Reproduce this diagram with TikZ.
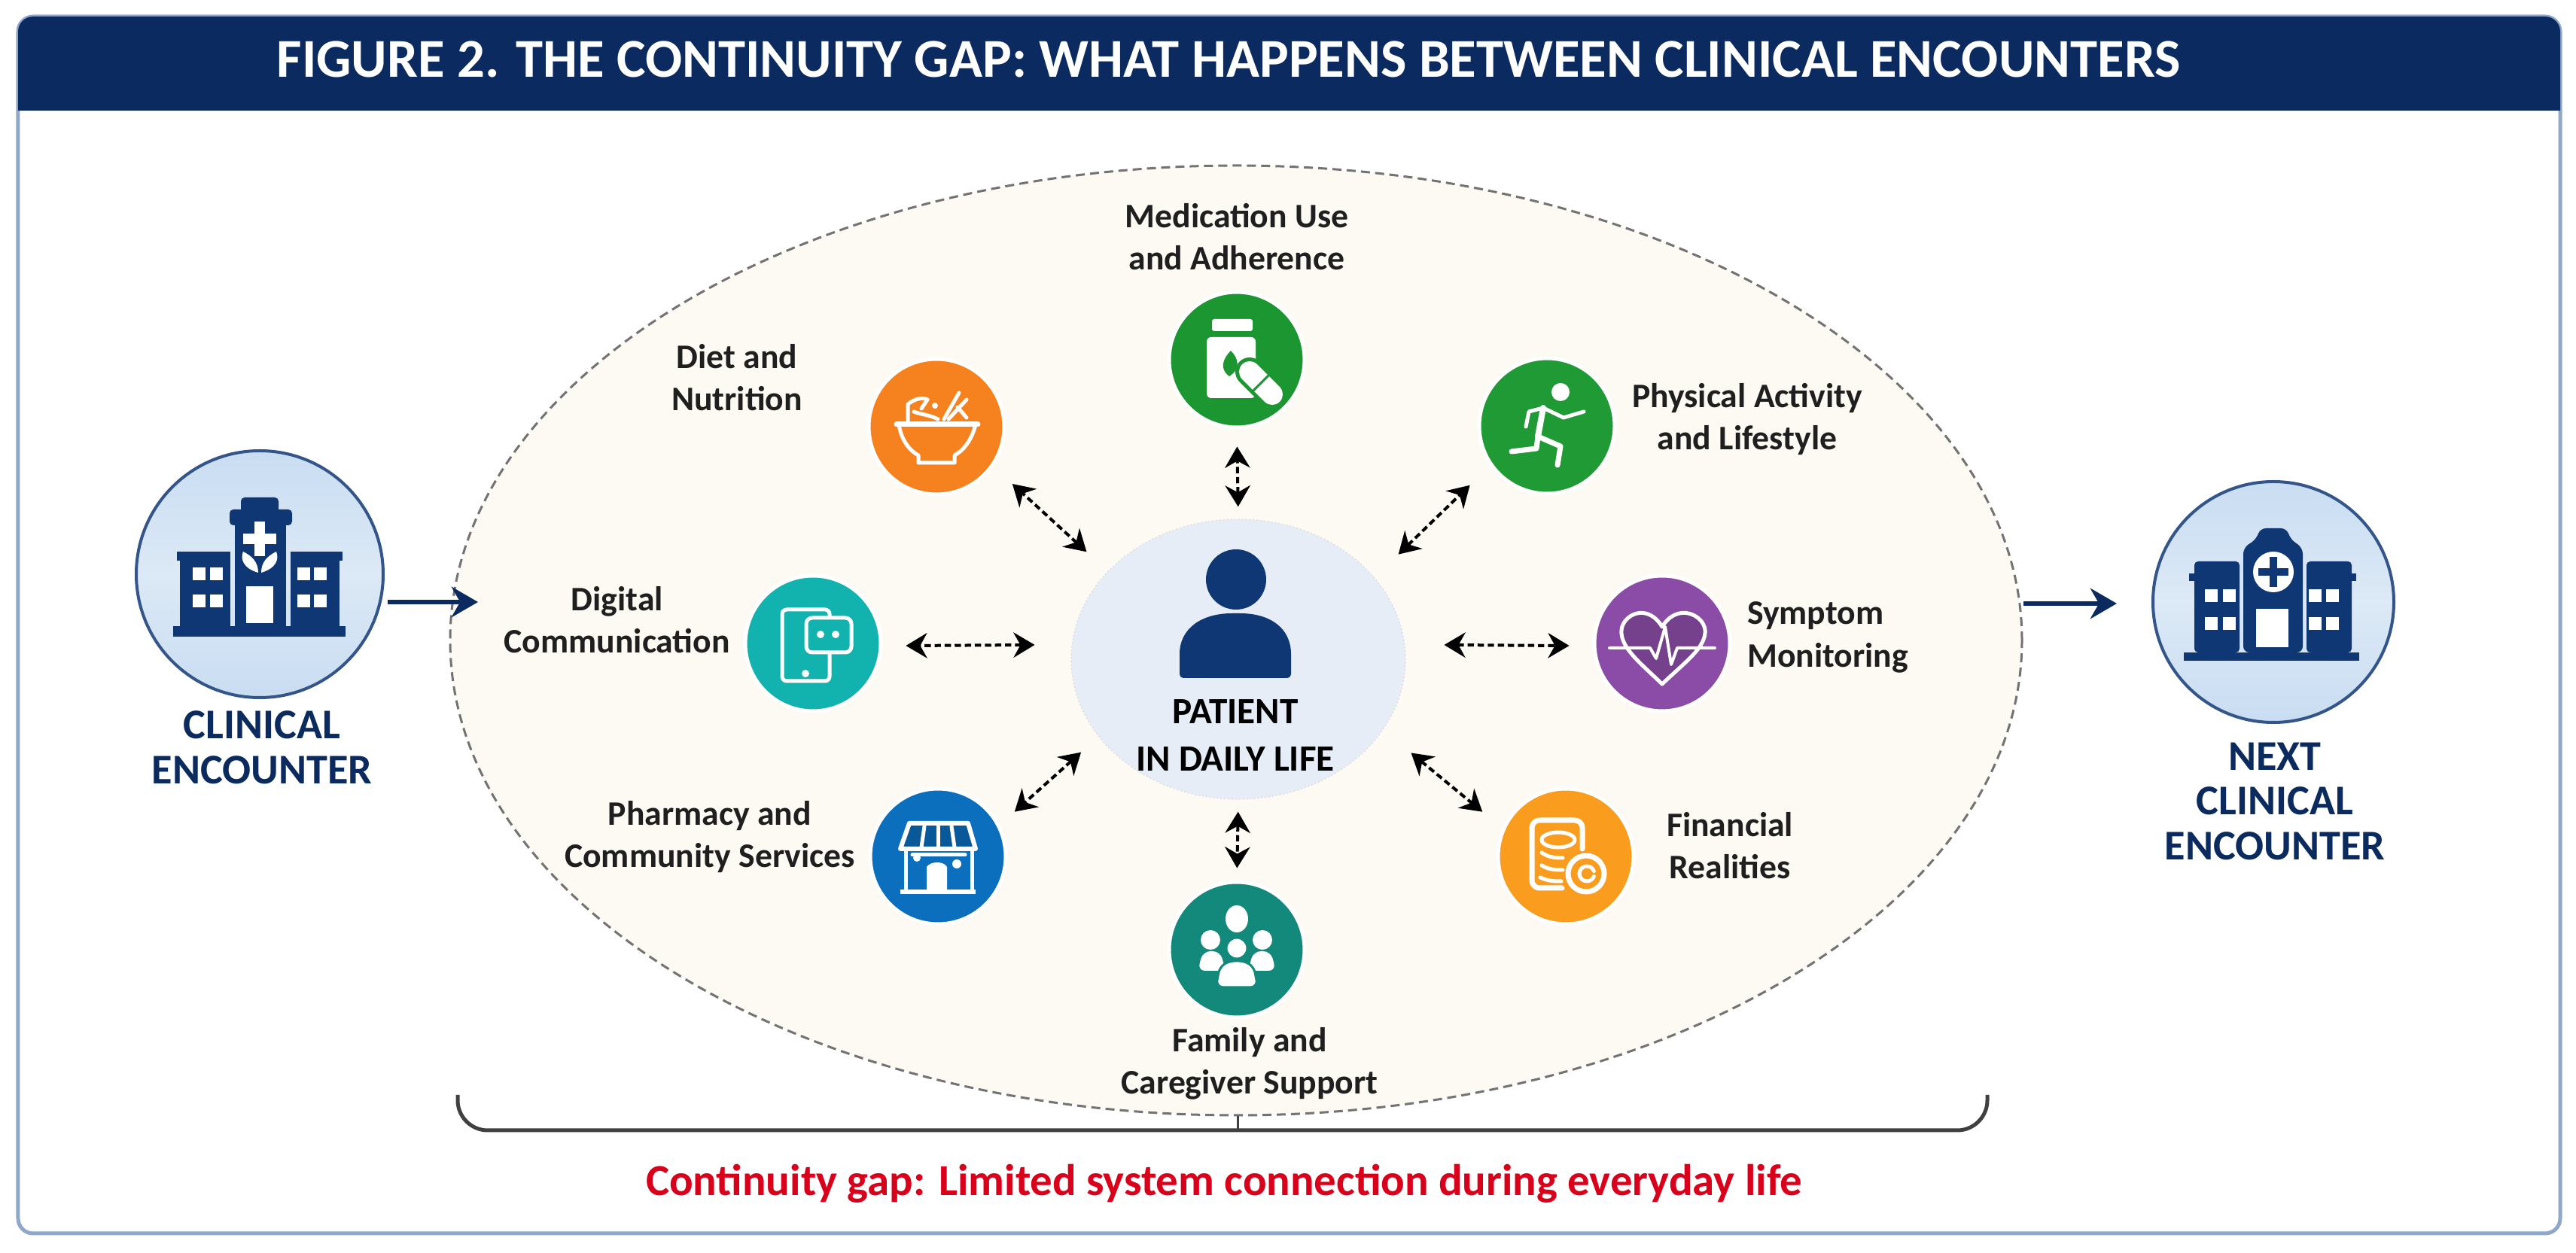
\documentclass[tikz,border=0pt]{standalone}
\usepackage{fontspec}
\setmainfont{Carlito}
\usepackage{xcolor}
\usetikzlibrary{arrows.meta,positioning,shapes.geometric,calc}
\definecolor{headblue}{HTML}{0A2A60}
\definecolor{framepale}{HTML}{8FA7C8}
\definecolor{navytext}{HTML}{0B2A5E}
\definecolor{ovalfill}{HTML}{FDF9F3}
\definecolor{patfill}{HTML}{E6EDF6}
\definecolor{patblue}{HTML}{0F3774}
\definecolor{encpale}{HTML}{C9DDF2}
\definecolor{encband}{HTML}{DCE9F6}
\definecolor{dietorange}{HTML}{F6821F}
\definecolor{medgreen}{HTML}{1C9630}
\definecolor{sportgreen}{HTML}{1F9A34}
\definecolor{heartpurple}{HTML}{8A4CA6}
\definecolor{coinorange}{HTML}{FA9C1E}
\definecolor{famteal}{HTML}{12897A}
\definecolor{shopblue}{HTML}{0B6FBE}
\definecolor{phoneteal}{HTML}{12B3AE}
\definecolor{gapred}{HTML}{D9001B}
\tikzset{
  wline/.style={draw=white, line width=.05cm, line cap=round, line join=round},
  hospa/.pic={
    \fill[patblue] (-1.15,-.83) rectangle (1.14,-.69);
    \fill[patblue] (-1.06,-.69) rectangle (-.39,.30);
    \fill[patblue] (.41,-.69) rectangle (1.06,.30);
    \fill[patblue] (-1.10,.18) rectangle (-.39,.30);
    \fill[patblue] (.41,.18) rectangle (1.10,.30);
    \fill[patblue, rounded corners=.05cm] (-.25,.80) rectangle (.25,1.02);
    \fill[patblue] (-.33,-.69) rectangle (.35,.70);
    \fill[patblue, rounded corners=.05cm] (-.40,.65) rectangle (.43,.86);
    \fill[white] (-.18,-.65) rectangle (.18,-.16);
    \fill[white] (-.07,.24) rectangle (.07,.70);
    \fill[white] (-.22,.40) rectangle (.22,.54);
    \fill[white] (-.02,.02) .. controls (-.22,.08) and (-.26,.20) .. (-.22,.30) .. controls (-.10,.24) and (-.02,.16) .. cycle;
    \fill[white] (.02,.02) .. controls (.22,.08) and (.26,.20) .. (.22,.30) .. controls (.10,.24) and (.02,.16) .. cycle;
    \foreach \wx in {-.81,-.58,.58,.80}
      \foreach \wy in {0,-.36}
        \fill[white] (\wx-.085,\wy-.085) rectangle ++(.17,.17);
  },
  hospb/.pic={
    \fill[patblue] (-1.19,-.78) rectangle (1.14,-.67);
    \fill[patblue, rounded corners=.05cm] (-1.05,-.67) rectangle (-.45,.54);
    \fill[patblue, rounded corners=.05cm] (.44,-.67) rectangle (1.04,.54);
    \fill[patblue] (-1.12,.28) rectangle (-.45,.38);
    \fill[patblue] (.44,.28) rectangle (1.10,.38);
    \fill[patblue, rounded corners=.08cm] (-.40,-.67) -- (-.40,.72) -- (-.22,.84) -- (-.18,.98) -- (.18,.98) -- (.22,.84) -- (.39,.72) -- (.39,-.67) -- cycle;
    \fill[white] (0,.40) circle (.27);
    \fill[patblue] (-.05,.20) rectangle (.05,.60);
    \fill[patblue] (-.20,.35) rectangle (.20,.45);
    \fill[white] (-.23,-.60) rectangle (.20,-.09);
    \foreach \wx in {-.83,-.59,.55,.78}
      \foreach \wy in {.08,-.29}
        \fill[white] (\wx-.085,\wy-.085) rectangle ++(.17,.17);
  },
  person/.pic={
    \fill[patblue] (-.03,1.06) ellipse (.40 and .40);
    \fill[patblue, rounded corners=.05cm] (-.78,-.25) -- (-.78,.02) .. controls (-.78,.40) and (-.50,.61) .. (-.03,.61) .. controls (.44,.61) and (.70,.40) .. (.70,.02) -- (.70,-.25) -- cycle;
  },
  bowl/.pic={
    \draw[wline, line width=.07cm] (-.53,.03) -- (.55,.03);
    \draw[wline] (-.50,.03) .. controls (-.46,-.22) and (-.32,-.34) .. (-.24,-.38) -- (-.24,-.48) -- (.24,-.48) -- (.24,-.38) .. controls (.32,-.34) and (.46,-.22) .. (.52,.03);
    \draw[wline] (-.38,.08) -- (-.38,.30) .. controls (-.30,.36) and (-.20,.40) .. (-.12,.36);
    \draw[wline] (-.30,.20) .. controls (-.20,.16) and (-.10,.16) .. (.02,.10);
    \draw[wline] (-.12,.36) -- (-.20,.24);
    \fill[white] (-.02,.28) circle (.04);
    \draw[wline] (.10,.10) -- (.30,.45);
    \draw[wline] (.16,.10) -- (.40,.36);
    \draw[wline] (.28,.26) -- (.40,.12);
  },
  pills/.pic={
    \fill[white, rounded corners=.03cm] (-.33,.38) rectangle (.21,.54);
    \fill[white, rounded corners=.06cm] (-.40,-.51) rectangle (.25,.30);
    \fill[medgreen] (-.10,-.22) .. controls (-.24,-.12) and (-.18,.02) .. (-.08,.12) .. controls (.02,.02) and (.06,-.12) .. cycle;
    \draw[medgreen, line width=.38cm, line cap=round] (.17,-.16) -- (.47,-.46);
    \draw[white, line width=.28cm, line cap=round] (.17,-.16) -- (.47,-.46);
    \draw[medgreen, line width=.03cm] (.20,-.43) -- (.44,-.19);
  },
  runner/.pic={
    \fill[white] (.18,.45) circle (.12);
    \draw[wline, line width=.08cm] (-.05,.24) -- (-.12,-.14);
    \draw[wline] (-.05,.24) -- (-.24,.19) -- (-.28,-.01);
    \draw[wline] (-.05,.24) -- (.22,.11) -- (.49,.19);
    \draw[wline, line width=.07cm] (-.12,-.14) -- (-.14,-.30) -- (-.47,-.34);
    \draw[wline, line width=.07cm] (-.12,-.14) -- (.18,-.27) -- (.14,-.52);
  },
  heartecg/.pic={
    \draw[wline, fill=heartpurple!85!black] (0,-.54) .. controls (-.30,-.25) and (-.56,-.05) .. (-.54,.18) .. controls (-.52,.38) and (-.20,.55) .. (0,.22) .. controls (.20,.55) and (.55,.38) .. (.57,.18) .. controls (.59,-.05) and (.30,-.25) .. (0,-.54) -- cycle;
    \draw[wline, line width=.04cm] (-.70,-.06) -- (-.16,-.06) -- (-.08,-.20) -- (.04,.22) -- (.12,-.28) -- (.20,-.06) -- (.70,-.06);
  },
  coins/.pic={
    \draw[wline, line width=.07cm, rounded corners=.10cm] (-.05,-.42) -- (-.45,-.42) -- (-.45,.48) -- (.22,.48) -- (.22,.10);
    \draw[wline] (-.10,.22) ellipse (.22 and .10);
    \draw[wline] (-.32,.05) .. controls (-.22,-.02) and (-.12,-.02) .. (-.04,-.02);
    \draw[wline] (-.32,-.12) .. controls (-.22,-.18) and (-.12,-.18) .. (-.04,-.18);
    \draw[wline] (-.34,-.28) .. controls (-.24,-.33) and (-.14,-.33) .. (-.06,-.33);
    \draw[wline, line width=.07cm, fill=coinorange] (.27,-.23) circle (.24);
    \draw[wline] (.18,-.23) arc (180:20:.10);
    \draw[wline] (.18,-.23) arc (180:340:.10);
  },
  famgroup/.pic={
    \fill[white] (0,.41) ellipse (.15 and .18);
    \fill[white] (-.35,.13) circle (.13);
    \fill[white] (.34,.13) circle (.13);
    \fill[white, rounded corners=.10cm] (-.52,-.28) -- (-.45,-.02) -- (-.22,-.02) -- (-.15,-.28) -- cycle;
    \fill[white, rounded corners=.10cm] (.15,-.28) -- (.22,-.02) -- (.45,-.02) -- (.52,-.28) -- cycle;
    \draw[famteal, line width=.03cm, fill=white] (0,.02) circle (.14);
    \draw[famteal, line width=.03cm, fill=white, rounded corners=.10cm] (-.28,-.50) -- (-.22,-.20) -- (0,-.13) -- (.22,-.20) -- (.28,-.50) -- cycle;
  },
  shopfront/.pic={
    \fill[white] (-.50,-.50) rectangle (.50,-.44);
    \draw[wline] (-.43,.10) -- (-.43,-.45);
    \draw[wline] (.45,.10) -- (.45,-.45);
    \fill[white] (-.15,-.45) -- (-.15,-.14) .. controls (-.10,-.06) and (.08,-.06) .. (.12,-.14) -- (.12,-.45) -- cycle;
    \fill[white] (-.28,-.02) circle (.05);
    \fill[white] (.25,-.10) circle (.06);
    \draw[wline] (-.34,.02) -- (.36,.02);
    \draw[wline, fill=shopblue!80!black, line width=.06cm] (-.38,.44) -- (.40,.44) -- (.50,.10) -- (-.50,.10) -- cycle;
    \draw[wline, line width=.05cm] (-.18,.40) -- (-.22,.12);
    \draw[wline, line width=.05cm] (0,.40) -- (0,.12);
    \draw[wline, line width=.05cm] (.18,.40) -- (.22,.12);
  },
  chatphone/.pic={
    \draw[wline, rounded corners=.06cm] (-.41,-.50) rectangle (.22,.45);
    \fill[white] (-.10,-.40) circle (.05);
    \draw[wline, fill=phoneteal, rounded corners=.08cm] (-.09,-.12) rectangle (.51,.34);
    \fill[white] (.10,.12) circle (.05);
    \fill[white] (.30,.12) circle (.05);
  }
}
\begin{document}
\begin{tikzpicture}[
  frame/.style={draw=framepale, fill=white, line width=.05cm,
                rounded corners=.2cm, minimum width=33.77cm,
                minimum height=16.17cm},
  encounter/.style={circle, draw=patblue!85, line width=.04cm, inner sep=0pt,
                    top color=encpale, bottom color=encpale,
                    middle color=encband},
  icon/.style={circle, draw=white, line width=.05cm, minimum size=1.8cm,
               inner sep=0pt},
  lab/.style={font=\bfseries\fontsize{13}{16}\selectfont, align=center,
              inner sep=0pt, text=black!88},
  enclab/.style={font=\bfseries\fontsize{16}{17}\selectfont, align=center,
                 inner sep=0pt, text=navytext},
  arr/.style={-{Stealth[length=10pt,width=11.5pt]}, line width=.06cm,
              draw=headblue},
  darr/.style={{Stealth[length=8pt,width=9.5pt]}-{Stealth[length=8pt,width=9.5pt]},
               dash pattern=on 2.4pt off 1.4pt, line width=.04cm}]
\useasboundingbox (0,0) rectangle (34.22,16.65);
\node[frame] (panel) at (17.125,8.345) {};
\fill[headblue] (.24,15.18) {[rounded corners=.2cm] -- (.24,16.43) -- (34.01,16.43)}
  -- (34.01,15.18) -- cycle;
\node[font=\bfseries\fontsize{20.7}{24}\selectfont, text=white] (title) at (16.32,15.86)
  {FIGURE 2. THE CONTINUITY GAP: WHAT HAPPENS BETWEEN CLINICAL ENCOUNTERS};
\node[ellipse, draw=black!55, fill=ovalfill, dash pattern=on 3.4pt off 2pt, line width=.03cm,
      inner sep=0pt, minimum width=20.88cm, minimum height=12.62cm] (gap) at (16.42,8.14) {};
\node[ellipse, draw=black!15, fill=patfill, densely dotted, inner sep=0pt,
      minimum width=4.44cm, minimum height=3.72cm] (patient) at (16.45,7.89) {};
\pic at (patient) {person};
\node[lab, font=\bfseries\fontsize{14}{16}\selectfont, text=black] (patientlab)
  at ($(patient)+(-.04,-1.01)$) {PATIENT\\[2pt]IN DAILY LIFE};
\node[encounter, minimum size=3.28cm] (clinical) at (3.45,9.02) {};
\pic at (clinical) {hospa};
\node[enclab, below=.15cm of clinical, xshift=.03cm] (clinicallab) {CLINICAL\\ENCOUNTER};
\node[encounter, minimum size=3.2cm] (next) at (30.20,8.65) {};
\pic at (next) {hospb};
\node[enclab, below=.24cm of next, xshift=.02cm] (nextlab) {NEXT\\CLINICAL\\ENCOUNTER};
\node[icon, fill=medgreen] (med) at (16.43,11.87) {};
\pic at (med) {pills};
\node[lab, above=.26cm of med] (medlab) {Medication Use\\and Adherence};
\node[icon, fill=sportgreen] (sport) at (20.55,10.99) {};
\pic at (sport) {runner};
\node[lab, right=.2cm of sport, yshift=.09cm] (sportlab) {Physical Activity\\and Lifestyle};
\node[icon, fill=heartpurple] (symptom) at (22.08,8.10) {};
\pic at (symptom) {heartecg};
\node[lab, align=left, right=.2cm of symptom, yshift=.08cm] (symptomlab) {Symptom\\Monitoring};
\node[icon, fill=coinorange] (money) at (20.80,5.27) {};
\pic at (money) {coins};
\node[lab, right=.41cm of money, yshift=.14cm] (moneylab) {Financial\\Realities};
\node[icon, fill=famteal] (family) at (16.43,4.03) {};
\pic at (family) {famgroup};
\node[lab, below=.1cm of family, xshift=.17cm] (familylab) {Family and\\Caregiver Support};
\node[icon, fill=shopblue] (shop) at (12.46,5.27) {};
\pic at (shop) {shopfront};
\node[lab, left=.17cm of shop, yshift=.26cm] (shoplab) {Pharmacy and\\Community Services};
\node[icon, fill=phoneteal] (digital) at (10.80,8.10) {};
\pic at (digital) {chatphone};
\node[lab, left=.17cm of digital, yshift=.31cm] (digitallab) {Digital\\Communication};
\node[icon, fill=dietorange] (diet) at (12.44,10.98) {};
\pic at (diet) {bowl};
\node[lab, left=.85cm of diet, yshift=.65cm] (dietlab) {Diet and\\Nutrition};
\draw[darr, shorten <=.16cm, shorten >=.23cm] (patient.90) -- (med.270);
\draw[darr, shorten <=.44cm, shorten >=.37cm] (patient.31) -- (sport.215);
\draw[darr, shorten <=.52cm, shorten >=.31cm] (patient.5) -- (symptom.182);
\draw[darr, shorten <=.48cm, shorten >=.34cm] (patient.-26) -- (money.156.6);
\draw[darr, shorten <=.16cm, shorten >=.16cm] (patient.270) -- (family.90);
\draw[darr, shorten <=.31cm, shorten >=.26cm] (patient.209) -- (shop.27.4);
\draw[darr, shorten <=.49cm, shorten >=.31cm] (patient.175) -- (digital.-2);
\draw[darr, shorten <=.38cm, shorten >=.34cm] (patient.146) -- (diet.-35);
\coordinate (gapin) at (6.35,8.65);
\coordinate (nextin) at (28.12,8.63);
\draw[arr, shorten <=.04cm] (gapin -| clinical.east) -- (gapin);
\draw[arr] (nextin -| gap.east) -- (nextin);
\coordinate (bracel) at (6.08,2.10);
\coordinate (bracer) at (26.40,2.10);
\coordinate (bracem) at (16.44,1.63);
\draw[black!75, line width=.05cm, rounded corners=.4cm] (bracel) |- (bracem) -| (bracer);
\draw[black!75, line width=.03cm] (bracem) -- ++(0,.19);
\node[font=\bfseries\fontsize{16.75}{20}\selectfont, text=gapred, below=.33cm of bracem, xshift=-.18cm]
  (gaplab) {Continuity gap: Limited system connection during everyday life};
\end{tikzpicture}
\end{document}
